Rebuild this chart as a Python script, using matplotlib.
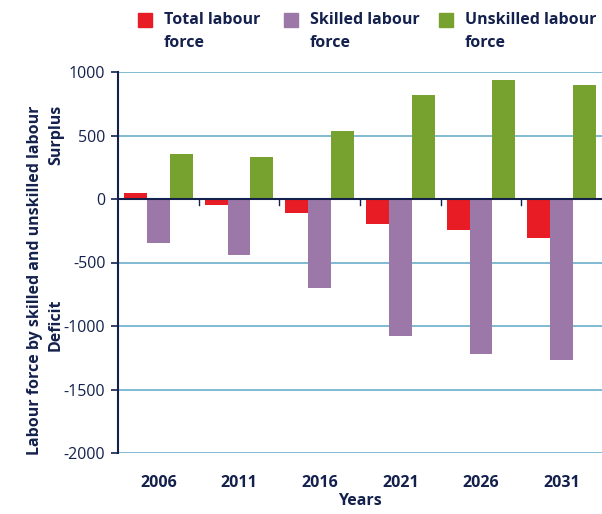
import matplotlib
matplotlib.use("Agg")
import matplotlib.pyplot as plt
import numpy as np
from matplotlib.patches import Rectangle

years = ["2006", "2011", "2016", "2021", "2026", "2031"]
total = [50, -50, -110, -195, -245, -305]
skilled = [-345, -440, -700, -1080, -1220, -1270]
unskilled = [355, 330, 535, 820, 940, 900]
yticks = [1000, 500, 0, -500, -1000, -1500, -2000]

navy = "#14214d"
red = "#E81C24"
purple = "#9B78A7"
green = "#77A22F"
grid = "#6aaecb"

plt.rcParams['font.family'] = ['Open Sans', 'DejaVu Sans']

fig = plt.figure(figsize=(6.02, 5.14), dpi=100)
ax = fig.add_axes([118/602, 1-453/514, 1-118/602, (453-72)/514])

x = np.arange(len(years))
w = 0.284
ax.bar(x - w, total, w, color=red, zorder=3)
ax.bar(x, skilled, w, color=purple, zorder=3)
ax.bar(x + w, unskilled, w, color=green, zorder=3)

ax.set_xlim(-0.5, 5.5)
ax.set_ylim(-2000, 1000)
ax.set_yticks(yticks)
ax.set_yticklabels([str(v) for v in yticks], fontsize=11.5, color=navy)
for v in yticks:
    if v != 0:
        ax.axhline(v, color=grid, lw=1.2, zorder=1)
ax.axhline(0, color=navy, lw=1.5, zorder=4)
# small ticks on zero line at group boundaries
for b in np.arange(0.5, 5.5, 1.0):
    ax.plot([b, b], [0, -45], color=navy, lw=1, zorder=4)

for s in ["top", "right", "bottom"]:
    ax.spines[s].set_visible(False)
ax.spines["left"].set_color(navy)
ax.spines["left"].set_linewidth(1.5)
ax.tick_params(axis='y', length=5, color=navy, width=1.2, pad=4)
ax.tick_params(axis='x', length=0, pad=16)
ax.set_xticks(x)
ax.set_xticklabels(years, fontsize=11.5, fontweight='bold', color=navy)
ax.set_xlabel("Years", fontsize=11.5, fontweight='bold', color=navy, labelpad=1)

fig.text(35/602, 1-280/514, "Labour force by skilled and unskilled labour", rotation=90,
         ha='center', va='center', fontsize=11.5, fontweight='bold', color=navy)
fig.text(56/602, 1-135/514, "Surplus", rotation=90, ha='center', va='center',
         fontsize=11.5, fontweight='bold', color=navy)
fig.text(56/602, 1-325/514, "Deficit", rotation=90, ha='center', va='center',
         fontsize=11.5, fontweight='bold', color=navy)

legend_items = [("Total labour\nforce", red, 138), ("Skilled labour\nforce", purple, 284),
                ("Unskilled labour\nforce", green, 439)]
for label, c, px in legend_items:
    fig.patches.append(Rectangle((px/602, 1-27/514), 14/602, 14/514,
                                 transform=fig.transFigure, color=c, figure=fig))
    fig.text((px+26)/602, 1-12/514, label, ha='left', va='top', fontsize=11.5,
             fontweight='bold', color=navy, linespacing=1.55)

fig.savefig("out.png", dpi=100)
